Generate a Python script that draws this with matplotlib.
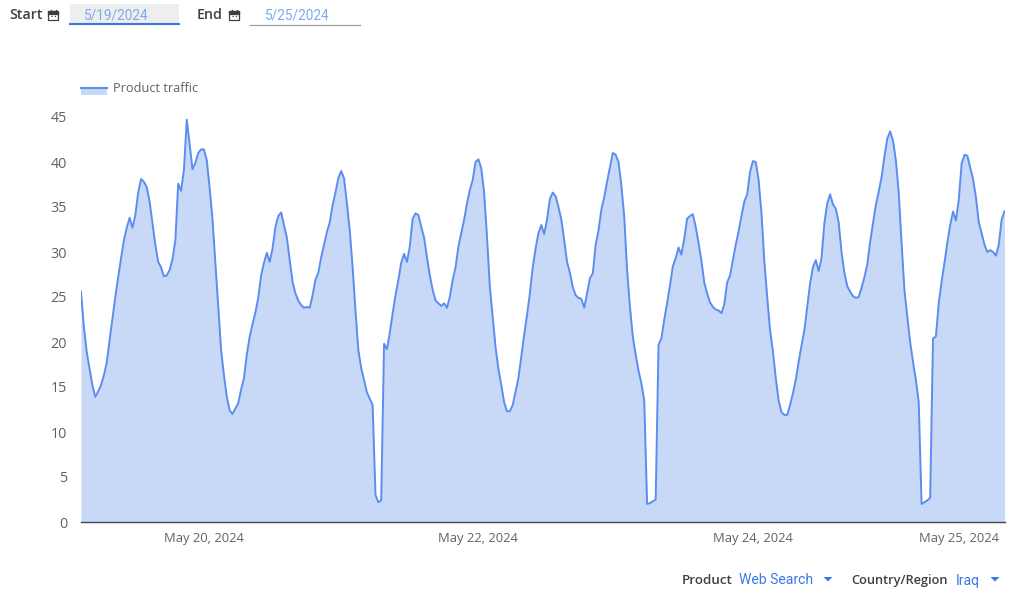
import matplotlib
matplotlib.use("Agg")
import matplotlib.pyplot as plt
from matplotlib.patches import Rectangle, Polygon

# half hours since the start of the series, one value per half hour
traffic = [
    25.6, 21.7, 18.9, 17.0, 15.2, 13.9, 14.5, 15.2, 16.3, 17.7, 20.2, 22.6, 25.0, 27.2, 29.3, 31.3,
    32.7, 33.8, 32.7, 34.1, 36.6, 38.1, 37.8, 37.2, 35.6, 33.2, 30.8, 28.9, 28.3, 27.3, 27.4, 28.0,
    29.2, 31.3, 37.6, 36.8, 39.1, 44.7, 41.9, 39.2, 39.9, 41.0, 41.4, 41.4, 40.2, 37.1, 33.6, 28.8,
    24.0, 19.1, 16.3, 13.9, 12.4, 12.0, 12.6, 13.2, 14.7, 16.0, 18.6, 20.6, 22.0, 23.3, 24.9, 27.4,
    28.8, 29.9, 28.9, 30.4, 32.8, 34.0, 34.4, 33.0, 31.6, 29.1, 26.7, 25.4, 24.6, 24.1, 23.8, 23.9,
    23.8, 25.2, 26.9, 27.7, 29.4, 30.8, 32.2, 33.3, 35.2, 36.6, 38.2, 39.0, 38.2, 35.4, 32.4, 28.3,
    23.5, 19.1, 17.1, 15.8, 14.4, 13.7, 13.0, 3.0, 2.2, 2.4, 19.8, 19.2, 21.0, 23.2, 25.2, 26.9,
    28.8, 29.8, 28.9, 30.6, 33.7, 34.3, 34.1, 32.8, 31.6, 29.4, 27.4, 25.8, 24.6, 24.3, 24.0, 24.3,
    23.8, 25.0, 26.9, 28.3, 30.6, 32.1, 33.6, 35.4, 36.9, 38.0, 40.0, 40.3, 39.3, 36.6, 31.7, 26.1,
    22.8, 19.4, 17.0, 15.2, 13.3, 12.3, 12.3, 13.0, 14.5, 16.0, 18.4, 20.8, 23.0, 25.4, 28.3, 30.4,
    32.1, 33.0, 32.0, 33.6, 35.9, 36.6, 36.2, 35.0, 33.6, 31.3, 28.9, 27.7, 26.1, 25.2, 24.9, 24.8,
    23.8, 25.4, 27.1, 27.6, 30.8, 32.4, 34.7, 36.1, 37.8, 39.4, 41.0, 40.8, 40.0, 37.4, 33.9, 28.0,
    23.9, 20.6, 18.6, 16.8, 15.4, 13.5, 2.0, 2.1, 2.3, 2.5, 19.7, 20.4, 22.5, 24.3, 26.3, 28.4,
    29.3, 30.5, 29.7, 31.5, 33.7, 34.0, 34.2, 32.8, 31.0, 29.0, 26.6, 25.4, 24.4, 23.9, 23.6, 23.5,
    23.2, 24.2, 26.6, 27.4, 29.1, 30.8, 32.3, 34.0, 35.6, 36.4, 38.9, 40.1, 40.0, 38.0, 34.3, 29.0,
    25.0, 21.3, 19.0, 16.0, 13.5, 12.2, 11.9, 11.9, 13.0, 14.3, 15.8, 17.8, 19.6, 21.3, 23.9, 26.5,
    28.3, 29.1, 27.9, 29.3, 33.2, 35.4, 36.4, 35.3, 34.8, 33.3, 30.0, 27.7, 26.2, 25.6, 25.1, 24.9,
    25.0, 26.0, 27.2, 28.6, 31.1, 33.2, 35.2, 36.7, 38.3, 40.6, 42.6, 43.4, 42.4, 40.2, 36.6, 31.0,
    25.8, 22.8, 20.0, 17.8, 15.8, 13.3, 2.0, 2.2, 2.4, 2.7, 20.4, 20.6, 24.3, 26.7, 28.8, 31.0,
    33.0, 34.5, 33.5, 35.8, 39.8, 40.8, 40.7, 39.4, 38.1, 36.1, 33.3, 32.1, 30.8, 30.0, 30.2, 30.0,
    29.6, 30.8, 33.6, 34.5,
]
y_ticks = [0, 5, 10, 15, 20, 25, 30, 35, 40, 45]
x_ticks = [43, 139, 235, 307]
x_labels = ["May 20, 2024", "May 22, 2024", "May 24, 2024", "May 25, 2024"]

LINE = "#5b8def"
FILL = "#c8d9f7"
BLUE = "#3b78e7"
LIGHT_BLUE = "#7baaf0"
GREY = "#5f6368"
DARK = "#3c4043"

plt.rcParams["font.family"] = ["Open Sans", "DejaVu Sans"]

fig = plt.figure(figsize=(10.24, 5.93), dpi=100)

# the chart itself
ax = fig.add_axes([81 / 1024, 1 - 522 / 593, 923.5 / 1024, 405 / 593])
xs = list(range(len(traffic)))
ax.fill_between(xs, traffic, 0, color=FILL, linewidth=0)
ax.plot(xs, traffic, color=LINE, linewidth=1.4)
ax.set_xlim(0, len(traffic) - 1)
ax.set_ylim(0, 45)
ax.set_yticks(y_ticks)
ax.set_xticks(x_ticks)
ax.set_xticklabels(x_labels)
ax.tick_params(axis="x", length=0, labelsize=9.4, labelcolor=GREY, pad=7)
ax.tick_params(axis="y", length=0, labelsize=10.4, labelcolor=GREY, pad=10)
for name in ["top", "left", "right"]:
    ax.spines[name].set_visible(False)
ax.spines["bottom"].set_color("#44474a")
ax.spines["bottom"].set_linewidth(1.0)
ax.patch.set_alpha(0)

# controls around the chart, laid out in screen pixels
ui = fig.add_axes([0, 0, 1, 1], zorder=5)
ui.set_xlim(0, 1024)
ui.set_ylim(593, 0)
ui.axis("off")


def label(x, y, s, color=DARK, weight="normal", size=9.6, family="Roboto"):
    ui.text(x, y, s, color=color, fontweight=weight, fontsize=size, family=family,
            va="center", ha="left")


def calendar(x, y):
    ui.add_patch(Rectangle((x, y), 10, 9, facecolor="white", edgecolor=DARK, linewidth=0.9))
    ui.add_patch(Rectangle((x, y), 10, 2.5, facecolor=DARK, edgecolor=DARK, linewidth=0.9))
    ui.plot([x + 2.5, x + 2.5], [y - 1.5, y], color=DARK, linewidth=0.9)
    ui.plot([x + 7.5, x + 7.5], [y - 1.5, y], color=DARK, linewidth=0.9)
    ui.plot([x + 2.5, x + 7.5], [y + 5, y + 5], color=DARK, linewidth=0.9, linestyle=":")


def arrow(x, y):
    ui.add_patch(Polygon([(x - 4.5, y - 2), (x + 4.5, y - 2), (x, y + 2.5)],
                         facecolor=BLUE, edgecolor="none"))


# date pickers
label(9, 15, "Start", weight="semibold", size=10.2, family="Open Sans")
calendar(48, 11)
ui.add_patch(Rectangle((70, 4), 109, 20, facecolor="#eeeeee", edgecolor="none"))
ui.plot([70, 179], [24, 24], color=BLUE, linewidth=1.5)
label(84, 15, "5/19/2024", color=LIGHT_BLUE, size=9.8)
label(197, 15, "End", weight="semibold", size=10.2, family="Open Sans")
calendar(229, 11)
ui.plot([250, 360], [24.5, 24.5], color="#9aa0a6", linewidth=0.9)
label(265, 15, "5/25/2024", color=LIGHT_BLUE, size=9.8)

# legend
ui.add_patch(Rectangle((81, 88), 26, 7, facecolor=FILL, edgecolor="none"))
ui.plot([81, 107], [88, 88], color=LINE, linewidth=1.5)
label(113, 88.5, "Product traffic", color=GREY, size=9.2, family="Open Sans")

# filters under the chart
label(682, 580.5, "Product", weight="semibold", size=9.6, family="Open Sans")
label(739, 580.5, "Web Search", color=BLUE, size=10.1)
arrow(828, 579)
label(851, 580.5, "Country/Region", weight="semibold", size=9.2, family="Open Sans")
label(956, 580.5, "Iraq", color=BLUE, size=10.1)
arrow(995, 579)

fig.savefig("out.png", dpi=100)
